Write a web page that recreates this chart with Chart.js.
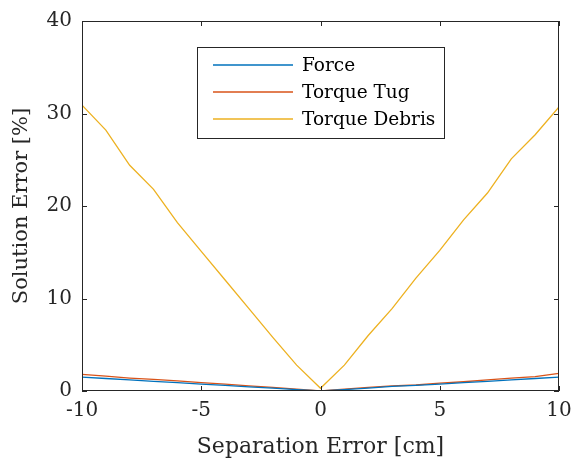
<!DOCTYPE html>
<html>
<head>
<meta charset="utf-8">
<script src="https://cdn.jsdelivr.net/npm/chart.js@4"></script>
<style>
  html, body { margin: 0; padding: 0; background: #fff; }
  #wrap { width: 571px; height: 464px; }
</style>
</head>
<body>
<div id="wrap"><canvas id="chart"></canvas></div>
<script>
const separation = [-10, -9, -8, -7, -6, -5, -4, -3, -2, -1, 0, 1, 2, 3, 4, 5, 6, 7, 8, 9, 10];
const forceErr = [1.5, 1.35, 1.2, 1.05, 0.9, 0.75, 0.6, 0.45, 0.3, 0.15, 0, 0.15, 0.3, 0.5, 0.6, 0.75, 0.9, 1.05, 1.2, 1.35, 1.5];
const torqueTugErr = [1.8, 1.6, 1.4, 1.25, 1.1, 0.9, 0.75, 0.55, 0.4, 0.2, 0, 0.2, 0.4, 0.55, 0.65, 0.85, 1.0, 1.2, 1.4, 1.55, 1.9];
const torqueDebrisErr = [30.9, 28.2, 24.4, 21.8, 18.2, 15.1, 12.0, 8.9, 5.8, 2.8, 0.3, 2.8, 6.0, 8.9, 12.2, 15.2, 18.5, 21.4, 25.1, 27.7, 30.7];
const seriesNames = ['Force', 'Torque Tug', 'Torque Debris'];
const seriesColors = ['#0072BD', '#D95319', '#EDB120'];
const xTicks = [-10, -5, 0, 5, 10];
const yTicks = [0, 10, 20, 30, 40];

const axisColor = '#262626';
const serif = '"DejaVu Serif", "Liberation Serif", serif';

function pts(vals) {
  return separation.map((x, i) => ({ x: x, y: vals[i] }));
}

// box round the plot, ticks drawn inward on all four sides, and the legend
const matlabBox = {
  id: 'matlabBox',
  afterDatasetsDraw(chart) {
    const ctx = chart.ctx;
    const a = chart.chartArea;
    const xs = chart.scales.x, ys = chart.scales.y;
    ctx.save();
    ctx.strokeStyle = axisColor;
    ctx.lineWidth = 1;
    ctx.strokeRect(a.left + 0.5, a.top + 0.5, a.right - a.left - 1, a.bottom - a.top - 1);
    ctx.beginPath();
    const len = 5;
    xTicks.forEach(v => {
      const px = Math.round(xs.getPixelForValue(v)) + 0.5;
      ctx.moveTo(px, a.bottom); ctx.lineTo(px, a.bottom - len);
      ctx.moveTo(px, a.top); ctx.lineTo(px, a.top + len);
    });
    yTicks.forEach(v => {
      const py = Math.round(ys.getPixelForValue(v)) + 0.5;
      ctx.moveTo(a.left, py); ctx.lineTo(a.left + len, py);
      ctx.moveTo(a.right, py); ctx.lineTo(a.right - len, py);
    });
    ctx.stroke();

    // legend
    const lx = 197, ly = 47, lw = 247, lh = 91;
    ctx.fillStyle = '#fff';
    ctx.fillRect(lx, ly, lw, lh);
    ctx.strokeStyle = axisColor;
    ctx.strokeRect(lx + 0.5, ly + 0.5, lw, lh);
    ctx.font = '18.5px ' + serif;
    ctx.textBaseline = 'middle';
    ctx.fillStyle = '#000';
    chart.data.datasets.forEach((ds, i) => {
      const y = ly + 18 + i * 27;
      ctx.beginPath();
      ctx.strokeStyle = ds.borderColor;
      ctx.lineWidth = 1.3;
      ctx.moveTo(213, y); ctx.lineTo(293, y);
      ctx.stroke();
      ctx.fillText(ds.label, 302, y + 1);
    });
    ctx.restore();
  }
};

new Chart(document.getElementById('chart'), {
  type: 'line',
  data: {
    datasets: [
      { label: seriesNames[0], data: pts(forceErr), borderColor: seriesColors[0] },
      { label: seriesNames[1], data: pts(torqueTugErr), borderColor: seriesColors[1] },
      { label: seriesNames[2], data: pts(torqueDebrisErr), borderColor: seriesColors[2] }
    ].map(d => Object.assign(d, { borderWidth: 1.3, pointRadius: 0, fill: false, tension: 0 }))
  },
  options: {
    responsive: true,
    maintainAspectRatio: false,
    animation: false,
    layout: { padding: { top: 21, right: 12, left: 0, bottom: 0 } },
    plugins: { legend: { display: false }, tooltip: { enabled: false } },
    scales: {
      x: {
        type: 'linear',
        min: -10, max: 10,
        afterFit(s) { s.height = 73; s.paddingLeft = 0; s.paddingRight = 0; },
        afterBuildTicks(s) { s.ticks = xTicks.map(v => ({ value: v })); },
        grid: { display: false, drawTicks: false },
        border: { display: false },
        ticks: { color: axisColor, padding: 8, font: { family: serif, size: 20 }, maxRotation: 0 },
        title: { display: true, text: 'Separation Error [cm]', color: axisColor, padding: { top: 0, bottom: 4 }, font: { family: serif, size: 22 } }
      },
      y: {
        min: 0, max: 40,
        afterFit(s) { s.width = 82; s.paddingTop = 0; s.paddingBottom = 0; },
        afterBuildTicks(s) { s.ticks = yTicks.map(v => ({ value: v })); },
        grid: { display: false, drawTicks: false },
        border: { display: false },
        ticks: { color: axisColor, padding: 10, font: { family: serif, size: 20 } },
        title: { display: true, text: 'Solution Error [%]', color: axisColor, padding: { top: 9, bottom: 0 }, font: { family: serif, size: 21 } }
      }
    }
  },
  plugins: [matlabBox]
});
</script>
</body>
</html>
